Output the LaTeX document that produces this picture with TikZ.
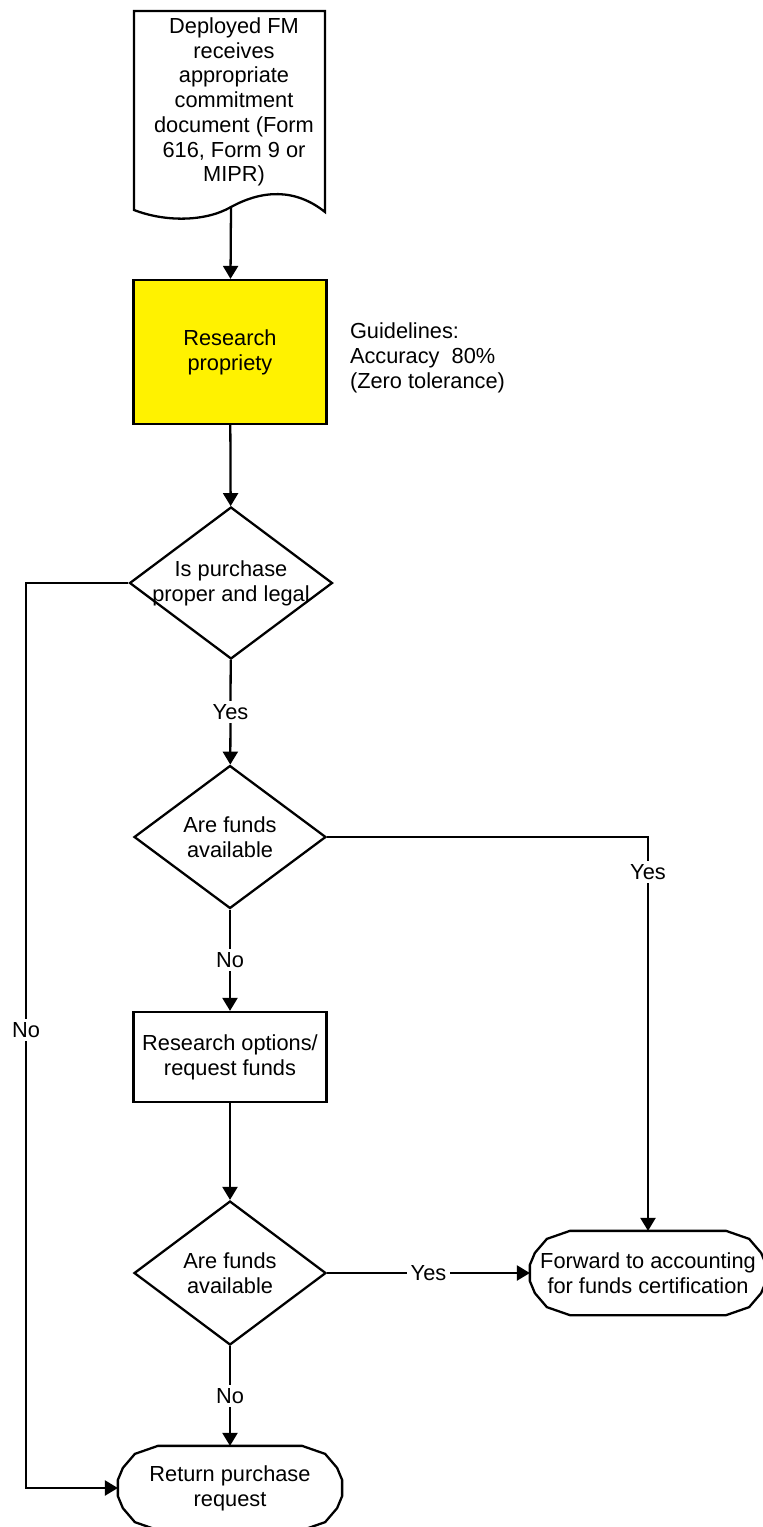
\documentclass[tikz,border=0pt]{standalone}
\usepackage{fontspec}
\setmainfont{Liberation Sans}
\usetikzlibrary{shapes.geometric,arrows.meta,calc}

\begin{document}
\begin{tikzpicture}[x=0.02cm, y=-0.02cm, line width=1.3pt,
        every node/.style={font=\fontsize{12.4}{14.1}\selectfont},
        flow/.style={-{Triangle[length=0.26cm,width=0.3cm]}},
        procbox/.style={draw, rectangle, align=center, inner sep=0pt},
        decision/.style={draw, diamond, inner sep=0pt},
        terminal/.style={rectangle, align=center, inner sep=0pt, minimum height=1.64cm},
        lab/.style={fill=white, inner sep=2pt}]
    \useasboundingbox (0,0) rectangle (762,1527);

    % document shape
    \node[align=center] (doc) at (234,102) {Deployed FM\\receives\\appropriate\\commitment\\document (Form\\616, Form 9 or\\MIPR)};
    \draw (134,11) -- (325,11) -- (325,212) .. controls (295,188) and (262,190) .. (231,207)
        .. controls (205,222) and (165,222) .. (134,210) -- cycle;
    \coordinate (docbot) at (231,207);

    \node[procbox, fill=yellow, minimum width=3.86cm, minimum height=2.88cm] (res) at (230,352) {Research\\propriety};
    \node[anchor=west, align=left] (guide) at (343,358) {Guidelines:\\Accuracy~ 80\%\\(Zero tolerance)};

    \node[decision, minimum width=4.06cm, minimum height=3.04cm,
        label={[align=center]center:Is purchase\\proper and legal}] (legal) at (231,583) {};
    \node[decision, minimum width=3.84cm, minimum height=2.86cm,
        label={[align=center]center:Are funds\\available}] (funds) at (230,837) {};
    \node[procbox, minimum width=3.86cm, minimum height=1.8cm] (options) at (230,1057) {Research options/\\request funds};
    \node[decision, minimum width=3.84cm, minimum height=2.88cm,
        label={[align=center]center:Are funds\\available}] (fundsb) at (230,1273) {};

    \node[terminal, minimum width=4.68cm] (fwd) at (648,1273) {Forward to accounting\\for funds certification};
    \node[terminal, minimum width=4.44cm] (ret) at (230,1488) {Return purchase\\request};
    \foreach \n in {fwd,ret}
        \draw ($(\n.north west)+(40,0)$) -- ($(\n.north east)+(-40,0)$) -- ($(\n.north east)+(-17,8)$)
            -- ($(\n.north east)+(-5,22)$) -- ($(\n.north east)+(0,34)$) -- ($(\n.south east)+(0,-34)$)
            -- ($(\n.south east)+(-5,-22)$) -- ($(\n.south east)+(-17,-8)$) -- ($(\n.south east)+(-40,0)$)
            -- ($(\n.south west)+(40,0)$) -- ($(\n.south west)+(17,-8)$) -- ($(\n.south west)+(5,-22)$)
            -- ($(\n.south west)+(0,-34)$) -- ($(\n.north west)+(0,34)$) -- ($(\n.north west)+(5,22)$)
            -- ($(\n.north west)+(17,8)$) -- cycle;

    \coordinate (nocorner) at (26,583);

    \draw[flow] (docbot) -- (res);
    \draw[flow] (res) -- (legal);
    \draw[flow] (legal) -- node[lab] {Yes} (funds);
    \draw[flow] (legal.west) -- (nocorner) |- node[lab, pos=0.247] {No} (ret.west);
    \draw[flow] (funds.east) -| node[lab, pos=0.544] {Yes} (fwd.north);
    \draw[flow] (funds) -- node[lab] {No} (options);
    \draw[flow] (options) -- (fundsb);
    \draw[flow] (fundsb.east) -- node[lab] {Yes} (fwd.west);
    \draw[flow] (fundsb) -- node[lab] {No} (ret);
\end{tikzpicture}
\end{document}
